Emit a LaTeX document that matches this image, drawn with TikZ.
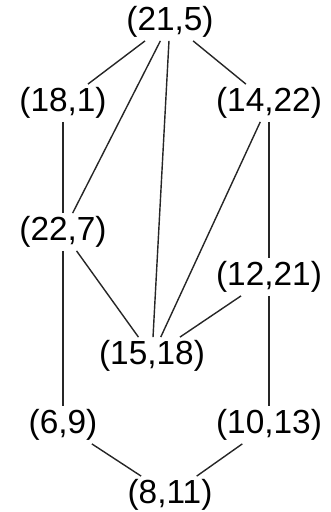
\documentclass[tikz,border=0pt]{standalone}
\usepackage{fontspec}
\setmainfont{Liberation Sans}
\usetikzlibrary{positioning}
\definecolor{c1}{rgb}{0.15, 0.15, 0.15}
\tikzstyle{every node}=[shape=rectangle, inner sep=1.5pt]
\tikzstyle{pair}=[font=\fontsize{19}{19}\selectfont, text=black]
\tikzset{
  edge/.style = {line width=0.8pt, c1},
}

\begin{document}
\begin{tikzpicture}[scale = 1]
    \pgfsetlinewidth{0.8pt}
    \useasboundingbox (0,0) rectangle (6.62,10.24);

    \node[pair] (p1) at (3.40,9.80){(21,5)};

    \node[pair] (p2) at (1.26,8.18){(18,1)};

    \node[pair] (p3) at (5.38,8.18){(14,22)};

    \node[pair] (p4) at (1.26,5.60){(22,7)};

    \node[pair] (p5) at (5.38,4.70){(12,21)};

    \node[pair] (p6) at (3.04,3.12){(15,18)};

    \node[pair] (p7) at (1.26,1.74){(6,9)};

    \node[pair] (p8) at (5.38,1.74){(10,13)};

    \node[pair] (p9) at (3.40,0.34){(8,11)};

	{
        \draw[edge] (p1) -- (p2);
        \draw[edge] (p1) -- (p3);
        \draw[edge] (p1) -- (p4);
        \draw[edge] (p1) -- (p6);

        \draw[edge] (p2) -- (p4);
        \draw[edge] (p3) -- (p5);
        \draw[edge] (p3) -- (p6);

        \draw[edge] (p4) -- (p6);
        \draw[edge] (p4) -- (p7);
        \draw[edge] (p5) -- (p6);
        \draw[edge] (p5) -- (p8);

        \draw[edge] (p7) -- (p9);
        \draw[edge] (p8) -- (p9);
	}

  \end{tikzpicture}
\end{document}
